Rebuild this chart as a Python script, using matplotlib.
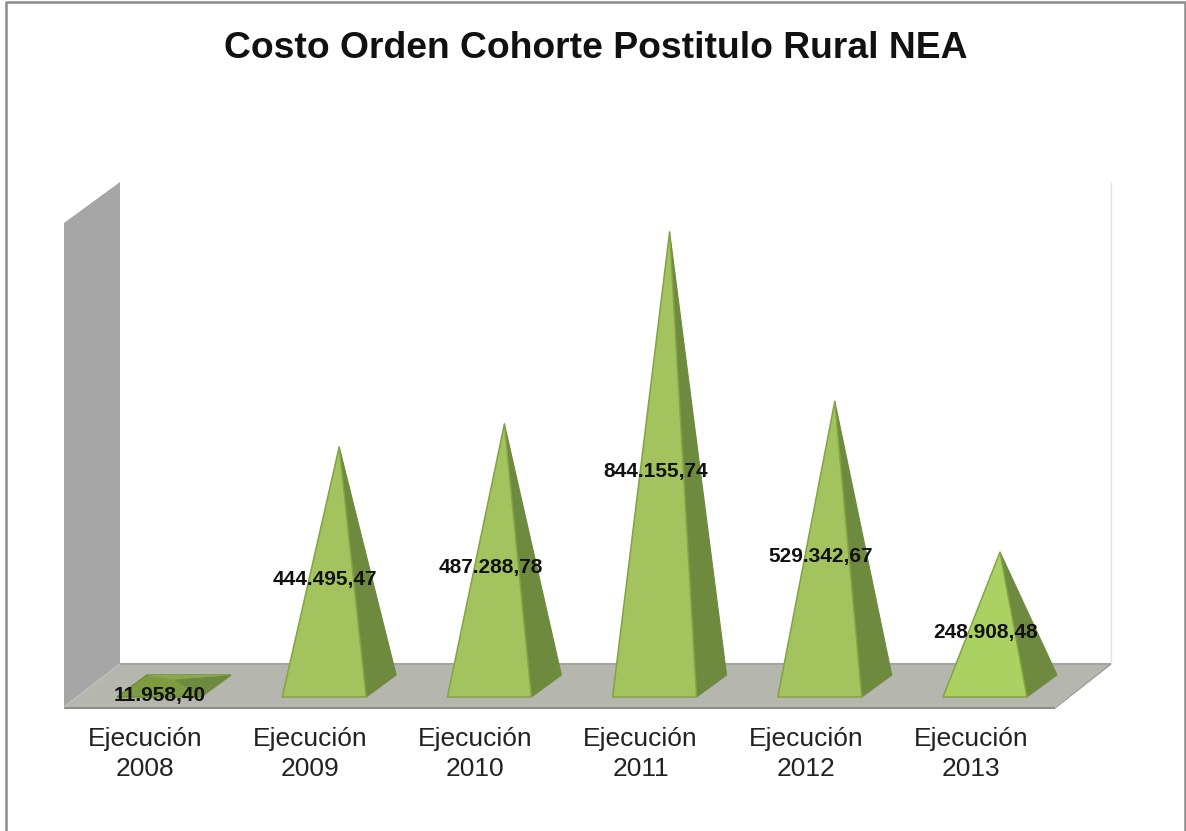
import matplotlib
matplotlib.use("Agg")
from matplotlib import pyplot as plt
from matplotlib.patches import Polygon

categories = ["Ejecución\n2008", "Ejecución\n2009", "Ejecución\n2010",
              "Ejecución\n2011", "Ejecución\n2012", "Ejecución\n2013"]
values = [11958.40, 444495.47, 487288.78, 844155.74, 529342.67, 248908.48]
value_labels = ["11.958,40", "444.495,47", "487.288,78",
                "844.155,74", "529.342,67", "248.908,48"]
title = "Costo Orden Cohorte Postitulo Rural NEA"

W, H = 1186, 831
STEP = 165.2      # pixels between categories
X0 = 159          # pixel of first category
Y0 = 686          # pixel of value 0, middle of the pyramid base
SCALE = 0.000538  # pixels per unit

def px(x):
    return (x - X0) / STEP

def py(y):
    return (Y0 - y) / SCALE

plt.rcParams["font.family"] = ["Liberation Sans", "DejaVu Sans"]
fig = plt.figure(figsize=(W / 100, H / 100), dpi=100)
ax = fig.add_axes([0, 0, 1, 1])
ax.set_xlim(px(0), px(W))
ax.set_ylim(py(H), py(0))
ax.axis("off")

def poly(points, **kw):
    ax.add_patch(Polygon([(px(x), py(y)) for x, y in points], closed=True, **kw))

def line(xs, ys, **kw):
    ax.plot([px(x) for x in xs], [py(y) for y in ys], solid_capstyle="butt", **kw)

# outer border, open at the bottom
line([6, 6, 1185, 1185], [831, 2, 2, 831], color="#8c8c8c", lw=1.8)

# wall and floor
line([1111, 1111], [182, 664], color="#e2e2e2", lw=1)
poly([(64, 223), (120, 182), (120, 664), (64, 707)], fc="#a6a6a6", ec="none")
poly([(64, 707), (120, 664), (1111, 664), (1055, 707)], fc="#b5b7af", ec="none")
line([120, 1111], [664, 664], color="#a3a59e", lw=1.5)
line([64, 1055], [708, 708], color="#8f908b", lw=1.5)
line([1055, 1111], [708, 664], color="#9a9b96", lw=1)
line([64, 120], [707, 664], color="#c0c0c0", lw=1)

half = 42 / STEP
dx = 30 / STEP
dy = 11 / SCALE  # half the base depth in value units

for i, v in enumerate(values):
    base = 0
    front_l = (i - half, base - dy)
    front_r = (i + half, base - dy)
    back_r = (i + half + dx, base + dy)
    back_l = (i - half + dx, base + dy)
    apex = (i + dx / 2, v)
    face = "#abd163" if i == 5 else "#a2c35e"
    if v < 30000:
        # almost flat: the base is still visible around the apex
        ax.add_patch(Polygon([front_l, back_l, back_r, front_r], closed=True,
                             fc="#7d9c42", ec="#6e8a3e", lw=1, zorder=3))
        ax.add_patch(Polygon([front_r, back_r, apex], closed=True,
                             fc="#6e8a3e", ec="none", zorder=3))
        ax.add_patch(Polygon([back_l, back_r, apex], closed=True,
                             fc="#8aa94c", ec="none", zorder=3))
    else:
        ax.add_patch(Polygon([front_r, back_r, apex], closed=True,
                             fc="#6e8a3e", ec="#6e8a3e", lw=0.8, zorder=3))
        ax.add_patch(Polygon([front_l, front_r, apex], closed=True,
                             fc=face, ec="#83a345", lw=1.1, joinstyle="round", zorder=4))
    ax.text(i + 1 / STEP, v / 2 - 13 / SCALE, value_labels[i], ha="center", va="center",
            fontsize=15, fontweight="bold", color="#111111", zorder=6)
    ax.text(i - 14 / STEP, py(754), categories[i], ha="center", va="center",
            fontsize=19, color="#222222", linespacing=1.27, zorder=6)

ax.text(px(596), py(48), title, ha="center", va="center",
        fontsize=26.8, fontweight="bold", color="#111111")

fig.savefig("out.png", dpi=100)
